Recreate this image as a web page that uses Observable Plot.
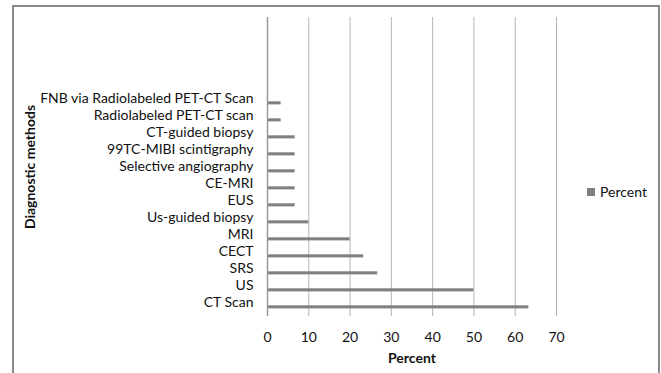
<!DOCTYPE html>
<html>
<head>
<meta charset="utf-8">
<script src="https://cdn.jsdelivr.net/npm/d3@7"></script>
<script src="https://cdn.jsdelivr.net/npm/@observablehq/plot@0.6"></script>
<style>
  html, body { margin: 0; padding: 0; background: #fff; }
  #wrap { position: relative; width: 661px; height: 373px; overflow: hidden; font-family: Lato, "Open Sans", sans-serif; }
  #frame { position: absolute; left: 12px; top: 5px; width: 648px; height: 400px; border: 2px solid #8a8a8a; box-sizing: border-box; }
  #chart { position: absolute; left: 0; top: 0; }
  #legend { position: absolute; left: 587px; top: 183px; font-size: 14px; color: #111; display: flex; align-items: center; }
  #legend .sw { width: 8px; height: 8px; background: #808080; margin-right: 5px; }
</style>
</head>
<body>
<div id="wrap">
  <div id="frame"></div>
  <div id="chart"></div>
  <div id="legend"><span class="sw"></span><span>Percent</span></div>
</div>
<script>
const methods = [
  "FNB via Radiolabeled PET-CT Scan",
  "Radiolabeled PET-CT scan",
  "CT-guided biopsy",
  "99TC-MIBI scintigraphy",
  "Selective angiography",
  "CE-MRI",
  "EUS",
  "Us-guided biopsy",
  "MRI",
  "CECT",
  "SRS",
  "US",
  "CT Scan"
];
const percents = [3.3, 3.3, 6.7, 6.7, 6.7, 6.7, 6.7, 10, 20, 23.3, 26.7, 50, 63.3];
const blankRows = ["blank1", "blank2", "blank3", "blank4"];
const xTicks = [0, 10, 20, 30, 40, 50, 60, 70];
const xTitle = "Percent";
const yTitle = "Diagnostic methods";

const data = methods.map((m, i) => ({method: m, percent: percents[i]}));

const chart = Plot.plot({
  width: 661,
  height: 373,
  marginLeft: 267,
  marginRight: 105,
  marginTop: 17,
  marginBottom: 57,
  style: {fontFamily: "Lato, 'Open Sans', sans-serif", fontSize: "14px", color: "#111", background: "transparent"},
  x: {domain: [0, 70], ticks: xTicks, label: null},
  y: {domain: [...blankRows, ...methods], label: null, padding: 0},
  marks: [
    Plot.ruleX(xTicks, {stroke: "#b5b5b5", strokeWidth: 1}),
    Plot.barX(data, {x: "percent", y: "method", fill: "#808080", insetTop: 11.3, insetBottom: 2.6}),
    Plot.ruleX([0], {stroke: "#9a9a9a", strokeWidth: 1.5}),
    Plot.axisX({ticks: xTicks, tickSize: 0, tickPadding: 16, line: true, stroke: "#b5b5b5", label: null}),
    Plot.axisY({tickSize: 0, tickPadding: 14, tickFormat: d => d.startsWith("blank") ? "" : d, label: null}),
    Plot.text([xTitle], {text: d => d, frameAnchor: "bottom", textAnchor: "middle", dy: 46, fontWeight: "bold", fontSize: 14, fill: "#111"}),
    Plot.text([yTitle], {text: d => d, frameAnchor: "left", textAnchor: "middle", dx: -237, rotate: -90, fontWeight: "bold", fontSize: 14, fill: "#111"})
  ]
});
document.getElementById("chart").appendChild(chart);
</script>
</body>
</html>
